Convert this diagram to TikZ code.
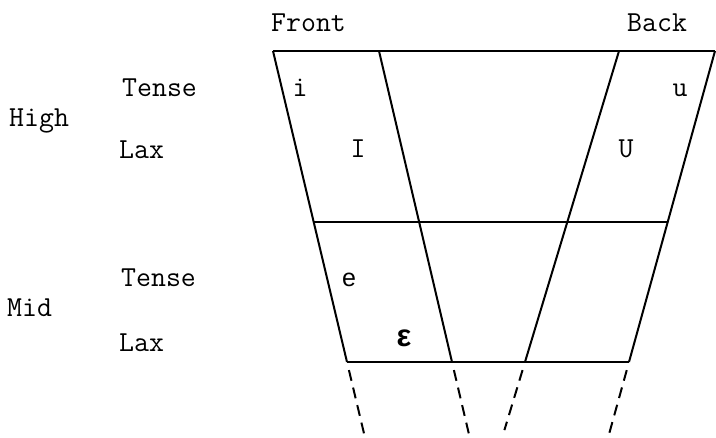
\documentclass[tikz,border=0pt]{standalone}
\usepackage{fontspec}
\newfontfamily\vowelsans{Liberation Sans}
\usetikzlibrary{calc}
\tikzset{
  rowtext/.style={anchor=base west,inner sep=0pt,font=\ttfamily\fontsize{29}{33}\selectfont},
  vowel/.style={anchor=base,inner sep=0pt,font=\ttfamily\fontsize{29}{33}\selectfont},
  chartline/.style={line width=2pt},
  extline/.style={chartline,dash pattern=on 11pt off 7pt}
}

\begin{document}
\begin{tikzpicture}[x=1pt,y=-1pt]
  \useasboundingbox (0,0) rectangle (716,438);
  % corners of the chart
  \coordinate (fl) at (273,51);  \coordinate (bl) at (347,362);
  \coordinate (fi) at (379,51);  \coordinate (bi) at (452,362);
  \coordinate (ki) at (619,51);  \coordinate (kb) at (525,362);
  \coordinate (fr) at (715,51);  \coordinate (br) at (629,362);
  \coordinate (ml) at ($(fl)!0.55!(bl)$);
  \coordinate (mr) at ($(fr)!0.55!(br)$);
  % grid
  \draw[chartline] (fl) -- (fr);
  \draw[chartline] (ml) -- (mr);
  \draw[chartline] (bl) -- (br);
  \draw[chartline] (fl) -- (bl);
  \draw[chartline] (fi) -- (bi);
  \draw[chartline] (ki) -- (kb);
  \draw[chartline] (fr) -- (br);
  % dashed continuations
  \draw[extline] ($(fl)!1.026!(bl)$) -- ($(fl)!1.244!(bl)$);
  \draw[extline] ($(fi)!1.026!(bi)$) -- ($(fi)!1.244!(bi)$);
  \draw[extline] ($(ki)!1.026!(kb)$) -- ($(ki)!1.219!(kb)$);
  \draw[extline] ($(fr)!1.026!(br)$) -- ($(fr)!1.244!(br)$);
  % headings
  \node[rowtext] (front) at (271,32) {Front};
  \node[rowtext] (back) at (627,32) {Back};
  \node[rowtext] (high) at (9,127) {High};
  \node[rowtext] (mid) at (7,317) {Mid};
  \node[rowtext] (htense) at (122,97) {Tense};
  \node[rowtext] (hlax) at (119,159) {Lax};
  \node[rowtext] (mtense) at (121,287) {Tense};
  \node[rowtext] (mlax) at (119,352) {Lax};
  % vowels
  \node[vowel] (vi) at (300,97) {i};
  \node[vowel] (vu) at (680,97) {u};
  \node[vowel] (vI) at (358,158) {I};
  \node[vowel] (vU) at (626,158) {U};
  \node[vowel,font=\vowelsans\fontsize{25}{29}\selectfont] (ve) at (349,287) {e};
  \node[vowel,font=\vowelsans\bfseries\fontsize{31}{36}\selectfont] (veps) at (404,347) {ε};
\end{tikzpicture}
\end{document}
